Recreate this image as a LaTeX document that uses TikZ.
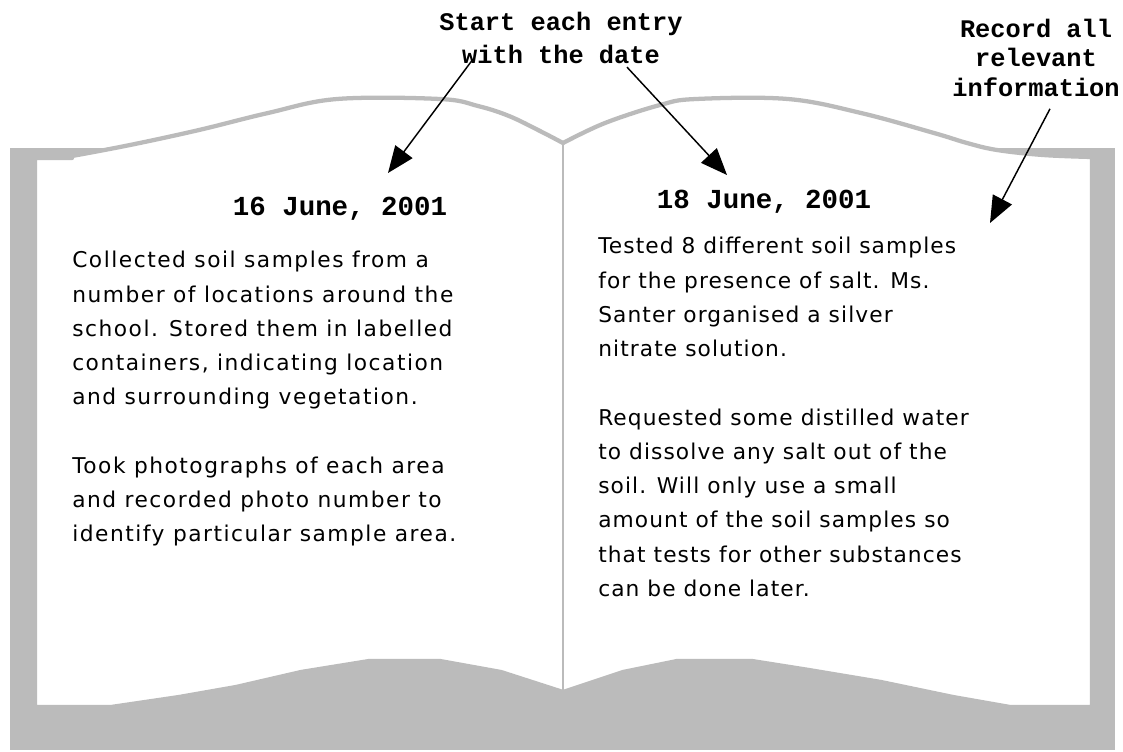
\documentclass[tikz,border=0pt]{standalone}
\usepackage{fontspec}
\setmainfont{DejaVu Sans}
\newfontfamily\leftpagefont[LetterSpace=7]{DejaVu Sans}
\newfontfamily\rightpagefont[LetterSpace=5]{DejaVu Sans}
\newfontfamily\notefont{Liberation Mono}
\usetikzlibrary{positioning, arrows.meta, calc}
\definecolor{bookgray}{RGB}{187,187,187}

\begin{document}
\begin{tikzpicture}[
  x=0.75pt, y=-0.75pt,
  book/.style={fill=white, draw=bookgray, line width=3.2pt, line join=round},
  spine/.style={draw=bookgray, line width=2.2pt},
  entry/.style={anchor=north west, inner sep=0pt, align=left,
                font=#1\fontsize{16.3}{25.7}\selectfont},
  date/.style={anchor=base, inner sep=0pt,
               font=\notefont\bfseries\fontsize{20.6}{24}\selectfont},
  note/.style={anchor=north, inner sep=0pt, align=center,
               font=\notefont\bfseries\fontsize{19}{#1}\selectfont},
  arr/.style={-{Triangle[length=20pt, width=16pt]}, line width=1.1pt, black},
]
\useasboundingbox (0,0) rectangle (1123,751);

% ===== BOOK COVER =====
\fill[bookgray] (10,148) rectangle (1115,750);

% ===== OPEN PAGES (top edge curves, bottom hills) =====
\filldraw[book] (35,705) -- (35,158) -- (72,158)
  -- plot[smooth, tension=0.6] coordinates {(72,156) (130,145) (199,130) (268,113)
       (337,99) (440,99) (478,106) (509,116) (540,131) (563,143)}
  -- plot[smooth, tension=0.6] coordinates {(563,143) (605,123) (660,105) (696,99)
       (788,99) (861,113) (934,133) (967,143) (997,150) (1043,155) (1092,157)}
  -- (1092,158) -- (1092,707) -- (1010,707) -- (953,697) -- (881,682) -- (809,670)
  -- (752,661) -- (677,661) -- (623,672) -- (563,692) -- (501,672) -- (440,661)
  -- (369,661) -- (301,672) -- (236,687) -- (179,697) -- (111,707) -- (35,707) -- cycle;

% spine between the pages
\draw[spine] (563,143) -- (563,690);

% ===== DATES =====
\node[date] (d1) at (340,215) {16 June, 2001};
\node[date] (d2) at (764,208) {18 June, 2001};

% ===== PAGE TEXT =====
\node[entry=\leftpagefont] (p1) at (72,251) {Collected soil samples from a\\
  number of locations around the\\
  school. Stored them in labelled\\
  containers, indicating location\\
  and surrounding vegetation.\\[25.7pt]
  Took photographs of each area\\
  and recorded photo number to\\
  identify particular sample area.};
\node[entry=\rightpagefont] (p2) at (598,237) {Tested 8 different soil samples\\
  for the presence of salt. Ms.\\
  Santer organised a silver\\
  nitrate solution.\\[25.7pt]
  Requested some distilled water\\
  to dissolve any salt out of the\\
  soil. Will only use a small\\
  amount of the soil samples so\\
  that tests for other substances\\
  can be done later.};

% ===== NOTES =====
\node[note=24.75] (n1) at (561,12) {Start each entry\\with the date};
\node[note=22] (n2) at (1036,19) {Record all\\relevant\\information};

% ===== ARROWS =====
\coordinate (t1) at (388,173);
\coordinate (t2) at (727,175);
\coordinate (t3) at (990,223);
\draw[arr] ([xshift=-66pt, yshift=3.75pt]n1.south) -- (t1);
\draw[arr] ([xshift=49.5pt, yshift=-2.25pt]n1.south) -- (t2);
\draw[arr] ([xshift=10.5pt, yshift=-9pt]n2.south) -- (t3);

\end{tikzpicture}
\end{document}
